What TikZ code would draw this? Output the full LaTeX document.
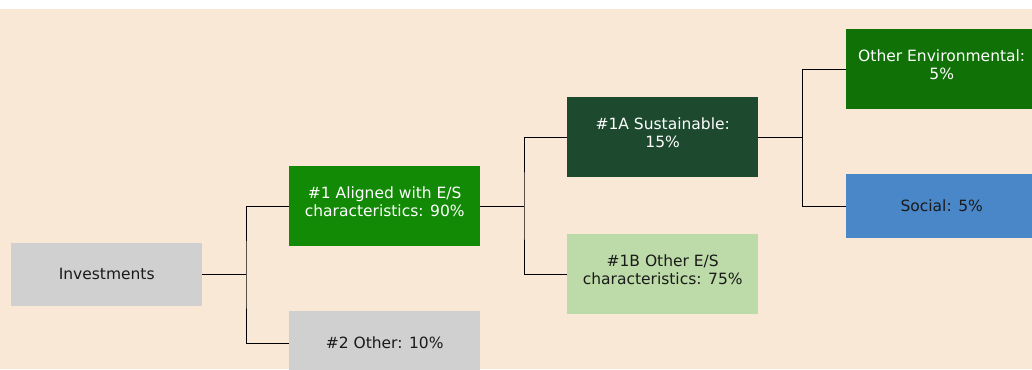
\documentclass[tikz,border=0pt]{standalone}
\usepackage{fontspec}
\setmainfont{DejaVu Sans}
\definecolor{bgpeach}{HTML}{FAE8D7}
\definecolor{boxgray}{HTML}{D0D0D0}
\definecolor{greenA}{HTML}{128A06}
\definecolor{darkgreen}{HTML}{1D4A2E}
\definecolor{lightgreen}{HTML}{BDDBA8}
\definecolor{envgreen}{HTML}{107206}
\definecolor{socblue}{HTML}{4A87C8}
\definecolor{darktext}{HTML}{1A1A1A}
\newcommand\twolines[2]{\raisebox{-1.5pt}[0pt][0pt]{\begin{tabular}{@{}c@{}}#1\\#2\end{tabular}}}
\newcommand\oneline[1]{\raisebox{1.5pt}{#1}}
\begin{document}
\begin{tikzpicture}[x=1pt,y=-1pt,
  box/.style={rectangle, inner sep=0pt, anchor=north west, minimum width=191pt,
    font=\fontsize{15.5}{17.8}\selectfont},
  conn/.style={draw=black, line width=1pt}]
\useasboundingbox (0,0) rectangle (1032,369);
\clip (0,0) rectangle (1032,369);
\fill[white] (0,0) rectangle (1032,9);
\fill[bgpeach] (0,9) rectangle (1032,369);
\node[box, fill=boxgray, text=darktext, minimum height=63pt] (inv) at (11,243) {\oneline{Investments}};
\node[box, fill=greenA, text=white, minimum height=80pt] (a1) at (289,166) {\twolines{\#1 Aligned with E/S}{characteristics: 90\%}};
\node[box, fill=boxgray, text=darktext, minimum height=64pt] (o2) at (289,311) {\oneline{\#2 Other: 10\%}};
\node[box, fill=darkgreen, text=white, minimum height=80pt] (s1a) at (567,97) {\twolines{\#1A Sustainable:}{15\%}};
\node[box, fill=lightgreen, text=darktext, minimum height=80pt] (s1b) at (567,234) {\twolines{\#1B Other E/S}{characteristics: 75\%}};
\node[box, fill=envgreen, text=white, minimum height=80pt] (env) at (846,29) {\twolines{Other Environmental:}{5\%}};
\node[box, fill=socblue, text=darktext, minimum height=64pt] (soc) at (846,174) {\oneline{Social: 5\%}};
\coordinate (j1) at (246,274.5);
\coordinate (j2) at (524,206);
\coordinate (j3) at (802,137);
\draw[conn] (inv.east) -- (inv.east -| j1);
\draw[conn] (a1.west) -| (j1) |- (o2.west);
\draw[conn] (a1.east) -- (a1.east -| j2);
\draw[conn] (s1a.west) -| (j2) |- (s1b.west);
\draw[conn] (s1a.east) -- (s1a.east -| j3);
\draw[conn] (env.west) -| (j3) |- (soc.west);
\end{tikzpicture}
\end{document}
